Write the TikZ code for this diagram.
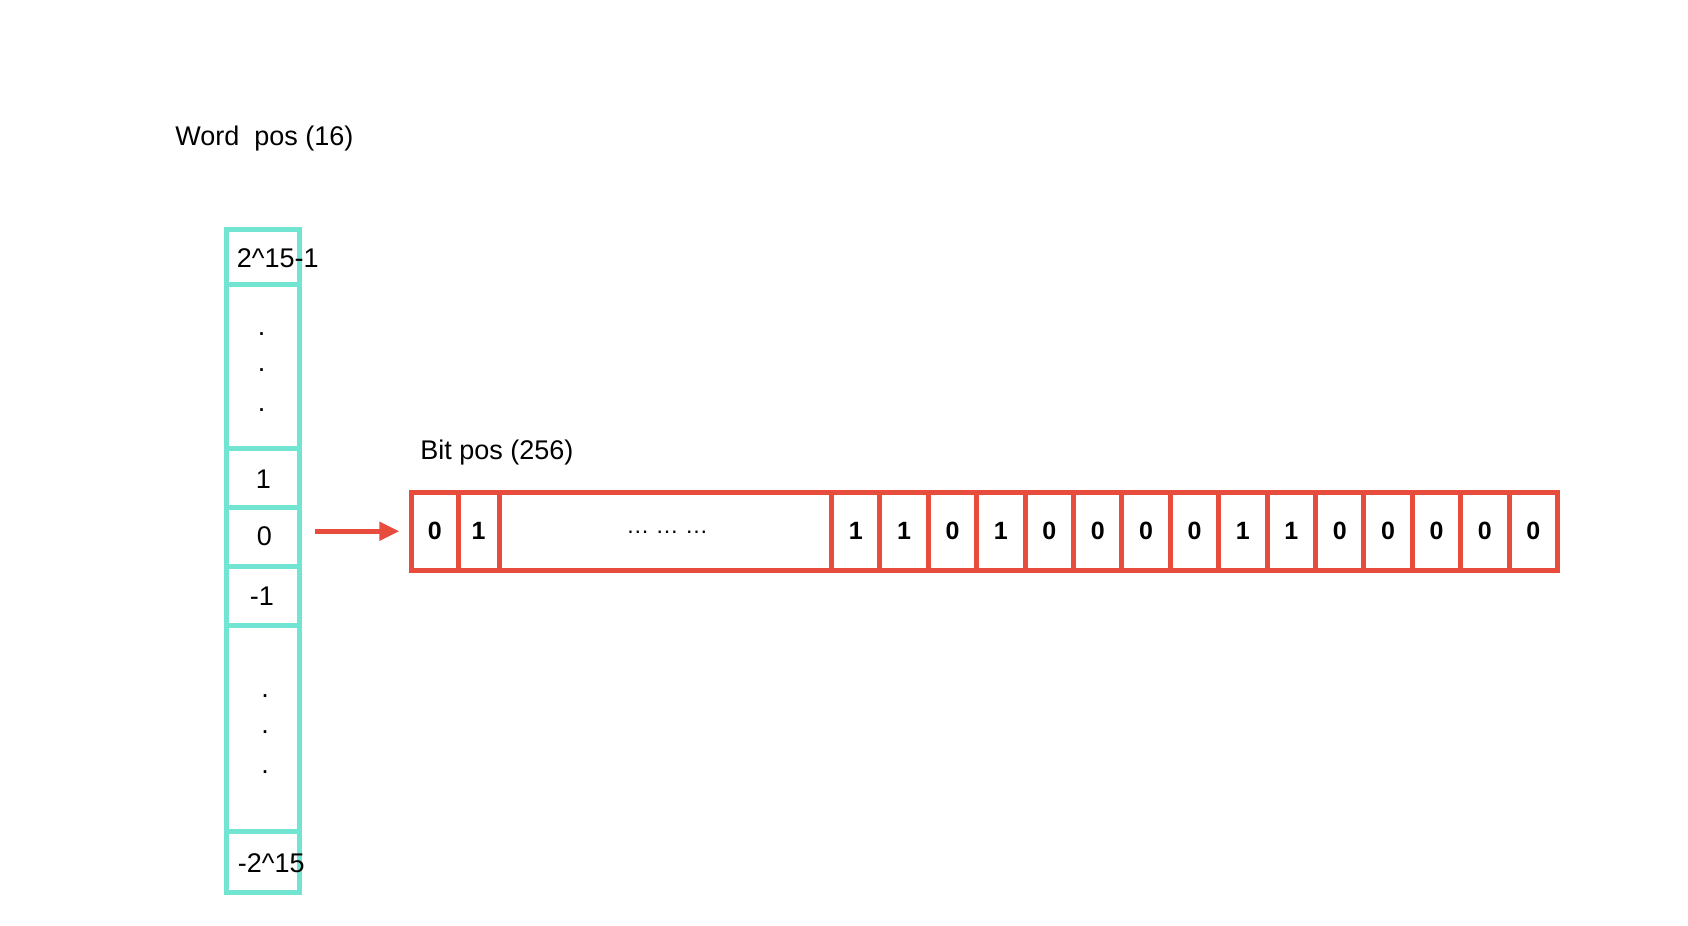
\documentclass[tikz,border=0pt]{standalone}
\usepackage{fontspec}
\setmainfont{Liberation Sans}
\usetikzlibrary{arrows.meta}
\definecolor{tealc}{HTML}{72E5D2}
\definecolor{redc}{HTML}{E74C3C}
\tikzset{
  wcell/.style={draw=tealc, line width=2.5pt, minimum width=36.5pt, inner sep=0pt},
  bcell/.style={draw=redc, line width=2.5pt, minimum height=38.75pt, inner sep=0pt, font=\fontsize{12.5}{14}\selectfont\bfseries},
  lbl/.style={inner sep=0pt, font=\fontsize{13.5}{15}\selectfont},
  dotlbl/.style={inner sep=0pt, anchor=base, font=\fontsize{13.5}{15}\selectfont},
  arr/.style={draw=redc, line width=2.5pt, -{Triangle[length=10pt,width=9pt]}}
}
\begin{document}
\begin{tikzpicture}[x=0.5pt,y=-0.5pt]
\useasboundingbox (0,0) rectangle (1688,926);
% labels
\node[lbl, anchor=west] (wordlbl) at (175,138.5) {Word\ \ pos (16)};
\node[lbl, anchor=west] (bitlbl) at (420,452.5) {Bit pos (256)};
% word column
\node[wcell, minimum height=27.25pt] (wtop) at (263,256.75) {};
\node[wcell, minimum height=82pt] (wdotsA) at (263,366) {};
\node[wcell, minimum height=29.75pt] (wp1) at (263,477.75) {};
\node[wcell, minimum height=29.5pt] (w0) at (263,537) {};
\node[wcell, minimum height=29.5pt] (wm1) at (263,596) {};
\node[wcell, minimum height=103pt] (wdotsB) at (263,728.5) {};
\node[wcell, minimum height=30.5pt] (wbot) at (263,862) {};
\node[lbl, anchor=west] (ttop) at (236.5,258) {2\textasciicircum15-1};
\node[lbl] (tp1) at (263.5,479) {1};
\node[lbl] (t0) at (264.5,536.5) {0};
\node[lbl] (tm1) at (262,596.5) {-1};
\node[lbl, anchor=west] (tbot) at (237.5,863) {-2\textasciicircum15};
\node[dotlbl] (da1) at (261.7,335) {.};
\node[dotlbl] (da2) at (261.7,371) {.};
\node[dotlbl] (da3) at (261.7,411) {.};
\node[dotlbl] (db1) at (265,697) {.};
\node[dotlbl] (db2) at (265,733) {.};
\node[dotlbl] (db3) at (265,773) {.};
% bit bar
\node[bcell, minimum width=23.25pt] (b0) at (434.75,531.25) {0};
\node[bcell, minimum width=20.5pt] (b1) at (478.5,531.25) {1};
\node[bcell, minimum width=166.25pt, font=\fontsize{11.5}{14}\selectfont] (bd) at (665.25,531.25) {\hspace*{2pt}\raisebox{-2.5pt}{… … …}};
\foreach \v [count=\i from 0] in {1,1,0,1,0,0,0,0,1,1,0,0,0,0,0} {
  \node[bcell, minimum width=24.2pt] (c\i) at ({831.5+48.4*\i+24.2},531.25) {\v};
}
% arrow
\draw[arr, shorten <=6.5pt, shorten >=4.85pt] (w0.east |- b0.west) -- (b0.west);
\end{tikzpicture}
\end{document}
